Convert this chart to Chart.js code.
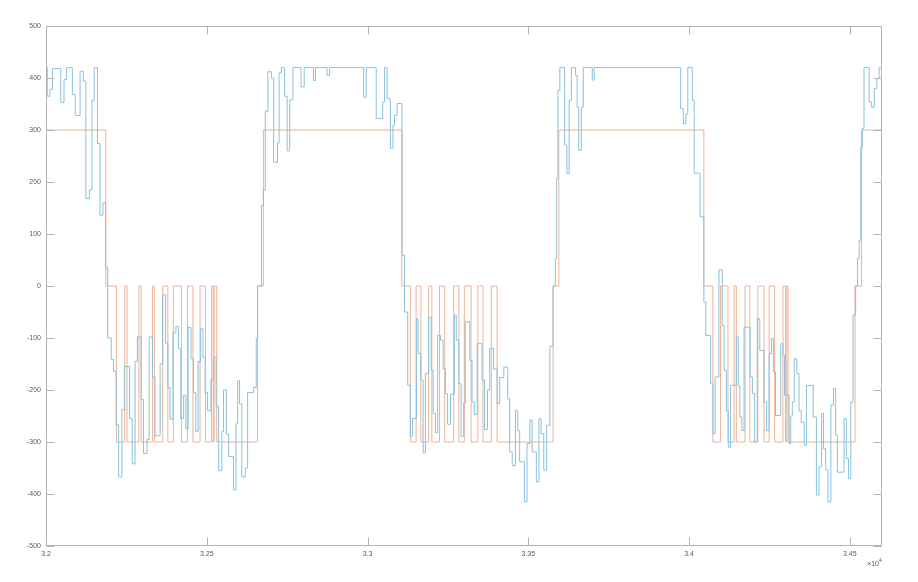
<!DOCTYPE html>
<html>
<head>
<meta charset="utf-8">
<script src="https://cdn.jsdelivr.net/npm/chart.js@4.4.0/dist/chart.umd.min.js"></script>
<style>
  html, body { margin: 0; padding: 0; background: #fff; }
</style>
</head>
<body>
<canvas id="lineChartJs" width="918" height="582"></canvas>
<script>
// reference step signal (orange)
var orangeX = [32000, 32186, 32219, 32245, 32252, 32289, 32296, 32331, 32337, 32363,
               32379, 32396, 32421, 32440, 32457, 32479, 32496, 32515, 32520, 32523,
               32531, 32658, 32676, 33107, 33133, 33151, 33166, 33190, 33200, 33224,
               33240, 33268, 33284, 33301, 33322, 33343, 33359, 33385, 33403, 33577,
               33595, 34046, 34074, 34098, 34121, 34140, 34147, 34174, 34189, 34214,
               34233, 34249, 34266, 34292, 34300, 34304, 34308, 34516, 34536, 34600];
var orangeY = [300, 0, -300, 0, -300, 0, -300, 0, -300, 0,
               -300, 0, -300, 0, -300, 0, -300, 0, -300, 0,
               -300, 0, 300, 0, -300, 0, -300, 0, -300, 0,
               -300, 0, -300, 0, -300, 0, -300, 0, -300, 0,
               300, 0, -300, 0, -300, 0, -300, 0, -300, 0,
               -300, 0, -300, 0, -300, 0, -300, 0, 300, 300];

// measured signal (blue)
var blueX = [32000, 32004, 32012, 32020, 32046, 32056, 32064, 32082, 32091, 32106,
             32116, 32124, 32135, 32143, 32150, 32160, 32168, 32177, 32185, 32192,
             32203, 32210, 32218, 32226, 32236, 32244, 32260, 32268, 32277, 32284,
             32296, 32303, 32314, 32321, 32331, 32339, 32355, 32363, 32372, 32379,
             32386, 32395, 32404, 32412, 32419, 32428, 32435, 32442, 32451, 32459,
             32466, 32473, 32481, 32488, 32495, 32502, 32513, 32521, 32529, 32537,
             32547, 32552, 32561, 32568, 32583, 32591, 32596, 32602, 32609, 32620,
             32627, 32646, 32654, 32658, 32670, 32676, 32682, 32690, 32701, 32708,
             32720, 32725, 32732, 32742, 32750, 32758, 32768, 32793, 32803, 32832,
             32838, 32874, 32882, 32988, 32996, 33027, 33047, 33053, 33061, 33071,
             33079, 33084, 33092, 33107, 33115, 33125, 33133, 33140, 33152, 33157,
             33166, 33173, 33180, 33190, 33198, 33204, 33211, 33218, 33227, 33235,
             33242, 33249, 33258, 33270, 33276, 33284, 33291, 33299, 33304, 33318,
             33325, 33332, 33341, 33356, 33364, 33373, 33380, 33392, 33403, 33411,
             33424, 33436, 33442, 33450, 33460, 33467, 33473, 33488, 33496, 33505,
             33512, 33525, 33533, 33540, 33548, 33557, 33567, 33577, 33584, 33588,
             33592, 33598, 33613, 33620, 33627, 33634, 33647, 33652, 33657, 33665,
             33671, 33699, 33705, 33974, 33982, 33990, 33996, 34010, 34016, 34034,
             34046, 34052, 34067, 34074, 34081, 34093, 34103, 34109, 34116, 34122,
             34129, 34147, 34153, 34158, 34164, 34171, 34190, 34197, 34204, 34212,
             34220, 34233, 34241, 34249, 34256, 34262, 34269, 34285, 34292, 34297,
             34311, 34316, 34321, 34327, 34335, 34342, 34349, 34358, 34365, 34386,
             34396, 34404, 34412, 34418, 34425, 34432, 34441, 34449, 34456, 34461,
             34482, 34489, 34496, 34503, 34510, 34518, 34524, 34529, 34534, 34539,
             34544, 34560, 34567, 34576, 34584, 34591, 34600];
var blueY = [420, 365, 378, 418, 353, 397, 420, 368, 328, 413,
             394, 168, 185, 357, 420, 274, 136, 160, 36, -100,
             -141, -164, -267, -367, -238, -155, -255, -342, -145, -98,
             -218, -322, -295, -98, -175, -288, -150, -17, -110, -195,
             -256, -90, -78, -120, -255, -210, -275, -80, -140, -205,
             -280, -145, -82, -137, -205, -240, -180, -137, -232, -355,
             -280, -200, -285, -328, -392, -265, -182, -227, -367, -350,
             -205, -195, -100, 0, 155, 184, 336, 412, 400, 238,
             275, 410, 420, 365, 260, 358, 420, 383, 420, 395,
             420, 405, 420, 363, 420, 322, 354, 420, 360, 265,
             309, 328, 351, 59, -50, -191, -289, -255, -63, -130,
             -181, -321, -168, -60, -162, -245, -282, -95, -104, -159,
             -207, -266, -208, -56, -104, -188, -289, -225, -69, -143,
             -223, -247, -111, -181, -276, -200, -120, -160, -226, -176,
             -156, -217, -319, -345, -239, -278, -338, -415, -303, -258,
             -319, -377, -255, -284, -354, -268, -116, 0, 53, 207,
             376, 420, 271, 216, 357, 420, 405, 344, 261, 344,
             420, 396, 420, 341, 312, 331, 420, 357, 217, 133,
             -31, -95, -188, -284, -175, 31, -76, -162, -240, -310,
             -191, -98, -192, -252, -278, -79, -175, -207, -300, -63,
             -124, -223, -278, -130, -101, -165, -249, -111, -133, -210,
             -303, -250, -223, -140, -168, -240, -262, -306, -191, -252,
             -402, -348, -245, -313, -354, -415, -229, -197, -287, -358,
             -255, -332, -370, -223, -56, 0, 53, 88, 267, 303,
             420, 354, 344, 380, 399, 420, 420];

var xTicks = [32000, 32500, 33000, 33500, 34000, 34500];
var xTickLabels = ['3.2', '3.25', '3.3', '3.35', '3.4', '3.45'];
var yTicks = [-500, -400, -300, -200, -100, 0, 100, 200, 300, 400, 500];

function toPoints(xs, ys) {
  return xs.map(function(x, i) { return {x: x, y: ys[i]}; });
}

// box around the plot with inward ticks, plus the x10^4 exponent
var matlabAxes = {
  id: 'matlabAxes',
  afterDraw: function(chart) {
    var ctx = chart.ctx, a = chart.chartArea;
    var xs = chart.scales.x, ys = chart.scales.y;
    var L = Math.round(a.left) + 0.5, R = Math.round(a.right) - 0.5;
    var T = Math.round(a.top) + 0.5, B = Math.round(a.bottom) - 0.5;
    ctx.save();
    ctx.strokeStyle = '#b4b4b4';
    ctx.lineWidth = 1;
    ctx.beginPath();
    ctx.moveTo(L, T); ctx.lineTo(R, T); ctx.lineTo(R, B); ctx.lineTo(L, B); ctx.closePath();
    xTicks.forEach(function(v) {
      var px = Math.round(xs.getPixelForValue(v)) + 0.5;
      ctx.moveTo(px, B); ctx.lineTo(px, B - 8);
      ctx.moveTo(px, T); ctx.lineTo(px, T + 8);
    });
    yTicks.forEach(function(v) {
      var py = Math.round(ys.getPixelForValue(v)) + 0.5;
      ctx.moveTo(L, py); ctx.lineTo(L + 8, py);
      ctx.moveTo(R, py); ctx.lineTo(R - 8, py);
    });
    ctx.stroke();

    ctx.fillStyle = '#5a5a5a';
    ctx.textBaseline = 'alphabetic';
    ctx.textAlign = 'right';
    ctx.font = '7px "Liberation Sans", Arial, sans-serif';
    ctx.fillText('\u00d710', a.right - 3, a.bottom + 20);
    ctx.textAlign = 'left';
    ctx.font = '5px "Liberation Sans", Arial, sans-serif';
    ctx.fillText('4', a.right - 3, a.bottom + 16);
    ctx.restore();
  }
};

var ctx = document.getElementById('lineChartJs').getContext('2d');
new Chart(ctx, {
  type: 'line',
  data: {
    datasets: [
      {
        label: 'meas',
        data: toPoints(blueX, blueY),
        borderColor: '#8ac2dc',
        borderWidth: 1,
        stepped: true,
        pointRadius: 0,
        fill: false
      }, {
        label: 'ref',
        data: toPoints(orangeX, orangeY),
        borderColor: '#ebb497',
        borderWidth: 1,
        stepped: true,
        pointRadius: 0,
        fill: false
      }
    ]
  },
  options: {
    responsive: false,
    animation: false,
    devicePixelRatio: 1,
    layout: { padding: { left: 0, top: 26, right: 36, bottom: 0 } },
    plugins: { legend: { display: false }, tooltip: { enabled: false } },
    scales: {
      x: {
        type: 'linear',
        min: 32000,
        max: 34600,
        border: { display: false },
        grid: { display: false, drawTicks: false },
        afterBuildTicks: function(scale) {
          scale.ticks = xTicks.map(function(v) { return {value: v}; });
        },
        afterFit: function(scale) { scale.height = 36; },
        ticks: {
          padding: 4,
          maxRotation: 0,
          autoSkip: false,
          color: '#5a5a5a',
          font: { family: '"Liberation Sans", Arial, sans-serif', size: 7 },
          callback: function(v) { return xTickLabels[xTicks.indexOf(v)]; }
        }
      },
      y: {
        min: -500,
        max: 500,
        border: { display: false },
        grid: { display: false, drawTicks: false },
        afterBuildTicks: function(scale) {
          scale.ticks = yTicks.map(function(v) { return {value: v}; });
        },
        afterFit: function(scale) { scale.width = 46; },
        ticks: {
          padding: 5,
          autoSkip: false,
          color: '#5a5a5a',
          font: { family: '"Liberation Sans", Arial, sans-serif', size: 7 },
          callback: function(v) { return String(v); }
        }
      }
    }
  },
  plugins: [matlabAxes]
});
</script>
</body>
</html>
